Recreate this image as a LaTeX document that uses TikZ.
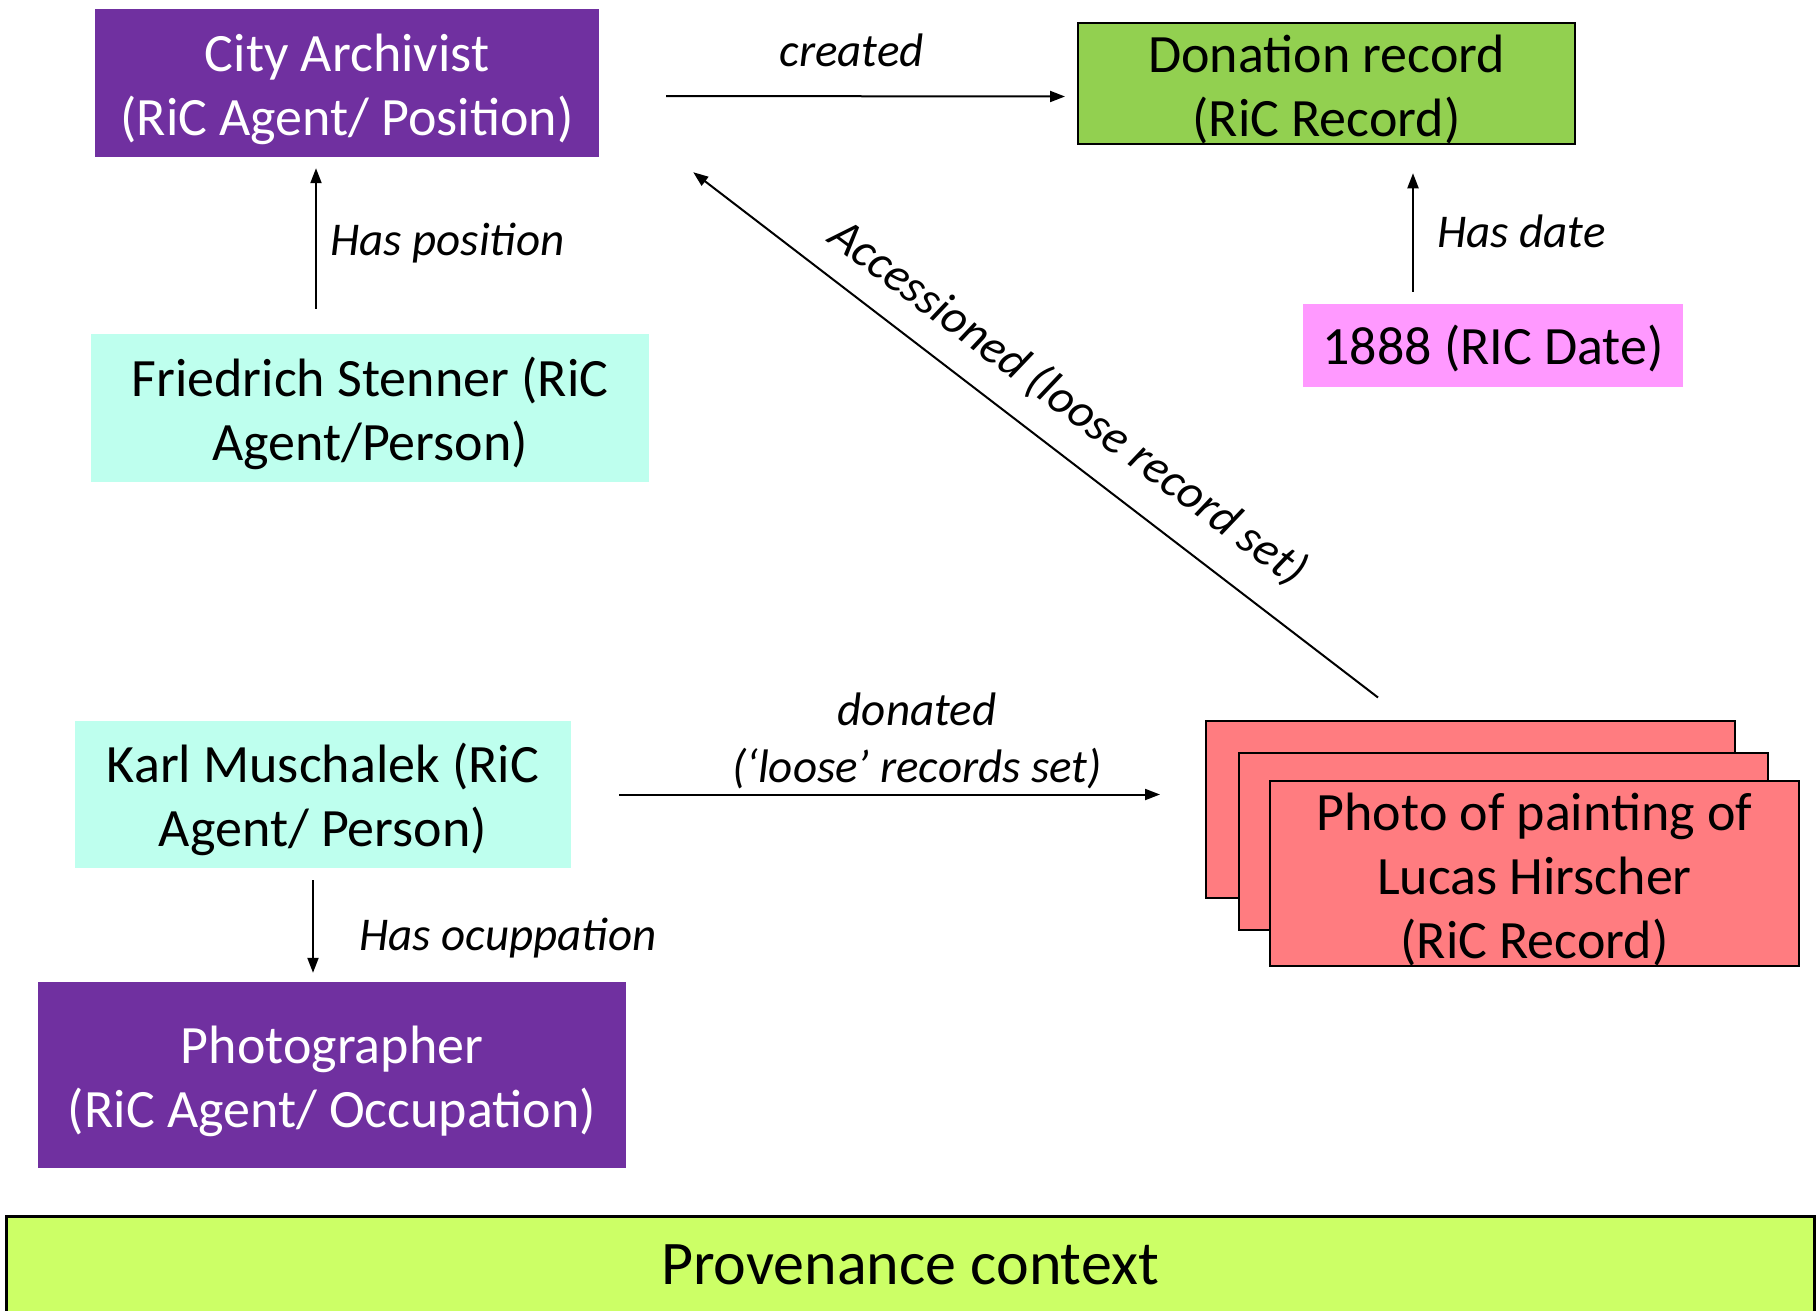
\documentclass[tikz,border=0pt]{standalone}
\usepackage{fontspec}
\setmainfont{Carlito}
\usetikzlibrary{arrows.meta,calc}
\definecolor{ricpurple}{HTML}{7030A0}
\definecolor{ricgreen}{HTML}{92D050}
\definecolor{ricaqua}{HTML}{BEFFEE}
\definecolor{ricpink}{HTML}{FF99FF}
\definecolor{ricred}{HTML}{FF7C80}
\definecolor{riclime}{HTML}{CCFF66}
\newcommand\boxstrut{\rule{0pt}{50pt}}
\begin{document}
\begin{tikzpicture}[x=1pt,y=-1pt,
  box/.style={inner sep=0pt, align=center, font=\fontsize{54}{64}\selectfont},
  lab/.style={inner sep=0pt, font=\fontsize{47}{57}\selectfont\itshape},
  arr/.style={-{Triangle[length=15pt,width=11pt]}, line width=2pt},
  recbox/.style={box, draw=black, line width=2pt, fill=ricred, minimum width=529pt, minimum height=177pt},
]
\useasboundingbox (0,0) rectangle (1820,1310);
\clip (0,0) rectangle (1820,1310);
\fill[white] (0,0) rectangle (1820,1310);

% nodes
\node[box, fill=ricpurple, text=white, minimum width=504pt, minimum height=148pt] (city) at (347,83) {\boxstrut City Archivist\\(RiC Agent/ Position)};
\node[box, draw=black, line width=2pt, fill=ricgreen, minimum width=497pt, minimum height=121pt] (don) at (1326.5,83.5) {\boxstrut Donation record\\(RiC Record)};
\node[box, fill=ricaqua, minimum width=558pt, minimum height=148pt] (fried) at (370,408) {\boxstrut Friedrich Stenner (RiC\\Agent/Person)};
\node[box, fill=ricpink, minimum width=380pt, minimum height=83pt] (date) at (1493,345.5) {\rule{0pt}{46pt}1888 (RIC Date)};
\node[box, fill=ricaqua, minimum width=496pt, minimum height=147pt] (karl) at (323,794.5) {\boxstrut Karl Muschalek (RiC\\Agent/ Person)};
\node[box, fill=ricpurple, text=white, minimum width=588pt, minimum height=186pt] (photog) at (332,1075) {\boxstrut Photographer\\(RiC Agent/ Occupation)};
\node[recbox] (recback) at (1470.5,809) {};
\node[recbox] (recmid) at (1503,841.5) {};
\node[recbox] (rec) at (1534.5,873.5) {\boxstrut Photo of painting of\\Lucas Hirscher\\(RiC Record)};
\node[box, draw=black, line width=3pt, fill=riclime, minimum width=1808pt, minimum height=98pt, font=\fontsize{62}{70}\selectfont] (prov) at (910,1265) {Provenance context};

% connectors
\draw[arr] ([shift={(67,13)}]city.east) -- node[lab, above=28pt, xshift=-14pt] {created} ([shift={(-12,13)}]don.west);
\coordinate (hp) at (316,0);
\draw[arr, shorten <=25pt, shorten >=11pt] (fried.north -| hp) -- (city.south -| hp);
\node[lab, anchor=west] (hplab) at (330,243) {Has position};
\coordinate (hd) at (1413,0);
\draw[arr, shorten <=12pt, shorten >=28pt] (date.north -| hd) -- (don.south -| hd);
\node[lab, anchor=west] (hdlab) at (1437,231) {Has date};
\draw[arr] ([shift={(173,-22)}]recback.north west) -- ([shift={(94,15)}]city.south east);
\node[lab, rotate=-36.6, font=\fontsize{48}{57}\selectfont\itshape] (acclab) at (1068,403) {Accessioned (loose record set)};
\coordinate (ho) at (313,0);
\draw[arr, shorten <=12pt, shorten >=9pt] (karl.south -| ho) -- (photog.north -| ho);
\node[lab, anchor=west] (holab) at (359,938) {Has ocuppation};
\draw[arr, shorten <=48pt, shorten >=45pt] (karl.east) -- (karl.east -| recback.west);
\node[lab, align=center] (donlab) at (917,741) {donated\\(‘loose’ records set)};
\end{tikzpicture}
\end{document}
